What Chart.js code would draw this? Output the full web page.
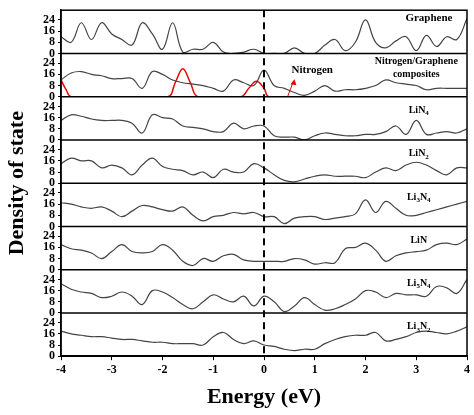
<!DOCTYPE html>
<html>
<head>
<meta charset="utf-8">
<script src="https://cdn.jsdelivr.net/npm/chart.js@4/dist/chart.umd.min.js"></script>
<style>
  html, body { margin: 0; padding: 0; background: #fff; }
  #wrap { width: 474px; height: 415px; }
</style>
</head>
<body>
<div id="wrap"><canvas id="grafDos"></canvas></div>
<script>
// energy grid (eV), step 0.2
const energia = [-4,-3.8,-3.6,-3.4,-3.2,-3,-2.8,-2.6,-2.4,-2.2,-2,-1.8,-1.6,-1.4,-1.2,-1,-0.8,-0.6,-0.4,-0.2,0,
                 0.2,0.4,0.6,0.8,1,1.2,1.4,1.6,1.8,2,2.2,2.4,2.6,2.8,3,3.2,3.4,3.6,3.8,4];

const dosGraphene  = [12,8,22,10,22,14,10,6,22,14,3,22,1,3,3,8,1,0,1,3,0,0,0,4,0,0,6,10,2,8,24,8,4,9,12,2,13,5,12,10,25];
const dosComposite = [12,17,18,16,15,13,13,13,6,18,16,12,10,9,8,6,4,12,10,8,19,8,6,3,1,4,8,4,5,5,6,8,12,10,9,8,5,6,6,6,6];
const dosLiN4      = [14,18,17,15,14,14,14,12,5,18,16,15,10,9,8,6,6,12,8,10,10,3,2,2,0,3,5,4,3,3,4,4,6,10,4,14,4,5,6,5,8];
const dosLiN2      = [14,18,16,16,11,13,11,6,13,18,12,10,9,6,8,4,10,8,8,14,11,6,2,1,3,5,6,5,5,5,4,8,11,9,13,15,13,9,6,11,11];
const dosLi3N4     = [17,16,14,13,14,11,7,11,15,14,12,11,14,8,4,7,8,10,9,10,7,7,2,6,7,7,5,6,7,9,19,10,18,13,8,8,10,12,14,16,18];
const dosLiN       = [18,15,14,12,8,13,18,13,12,13,18,14,6,3,8,6,10,11,7,6,6,6,6,8,7,4,5,5,15,16,19,14,6,10,12,13,14,18,19,18,22];
const dosLi5N4     = [21,17,15,14,11,12,15,12,6,16,15,11,6,3,8,13,10,8,12,5,12,8,1,5,11,6,2,3,6,10,16,15,11,14,13,13,12,19,18,14,24];
const dosLi3N2     = [18,16,15,14,14,13,12,12,11,10,10,9,9,9,8,14,17,12,9,11,8,7,5,4,5,5,9,12,14,15,15,17,11,12,14,17,18,17,16,18,21];

// nitrogen projected DOS (red), own energy points
const energiaN = [-4,-3.9,-3.8,-1.9,-1.75,-1.6,-1.45,-1.3,-0.45,-0.3,-0.15,0,0.1,4];
const dosN     = [12,5,0,0,10,20,10,0,0,6,11,6,0,0];

const painelNomes = ['Graphene', ['Nitrogen/Graphene', 'composites'], 'LiN4', 'LiN2', 'Li3N4', 'LiN', 'Li5N4', 'Li3N2'];
const painelDados = [dosGraphene, dosComposite, dosLiN4, dosLiN2, dosLi3N4, dosLiN, dosLi5N4, dosLi3N2];
const yTicks = [0, 8, 16, 24];

const serif = '"Liberation Serif", "DejaVu Serif", serif';
const nAxes = painelDados.length;

let datasets = [];
let scales = {
   x: {
      type: 'linear', min: -4, max: 4,
      ticks: { stepSize: 1, color: '#000', font: { family: serif, size: 12, weight: 'bold' } },
      grid: { drawOnChartArea: false, color: '#000', tickLength: 4 },
      border: { color: '#000', width: 1.5 },
      title: { display: true, text: 'Energy (eV)', color: '#000', font: { family: serif, size: 22, weight: 'bold' }, padding: { top: 4 } }
   }
};

for (let i = 0; i < nAxes; i++) {
   datasets.push({
      data: energia.map((e, k) => ({ x: e, y: painelDados[i][k] })),
      yAxisID: 'y' + i, borderColor: '#444', borderWidth: 1.2, pointRadius: 0, tension: 0.4, fill: false
   });
}
// stacked axes are laid out bottom-up, so add them in reverse
for (let i = nAxes - 1; i >= 0; i--) {
   scales['y' + i] = {
      type: 'linear', stack: 'dos', stackWeight: 1, offset: false, position: 'left',
      min: 0, max: 31,
      afterBuildTicks: ax => { ax.ticks = yTicks.map(v => ({ value: v })); },
      afterFit: ax => { ax.width = 61; },
      ticks: { autoSkip: false, color: '#000', padding: 3, font: { family: serif, size: 12, weight: 'bold' } },
      grid: { drawOnChartArea: false, color: '#000', tickLength: 3 },
      border: { color: '#000', width: 1.5 }
   };
}
datasets.push({
   data: energiaN.map((e, k) => ({ x: e, y: dosN[k] })),
   yAxisID: 'y1', borderColor: '#e00', borderWidth: 1.5, pointRadius: 0, tension: 0.4, fill: false
});

const extras = {
   id: 'extras',
   afterDraw(chart) {
      const ctx = chart.ctx, a = chart.chartArea, sx = chart.scales.x;
      ctx.save();
      // panel frame and separators
      ctx.strokeStyle = '#000'; ctx.lineWidth = 1.5;
      ctx.strokeRect(a.left, a.top, a.right - a.left, a.bottom - a.top);
      for (let i = 0; i < nAxes; i++) {
         let s = chart.scales['y' + i];
         ctx.beginPath(); ctx.moveTo(a.left, s.bottom); ctx.lineTo(a.right, s.bottom); ctx.stroke();
      }
      // Fermi level
      let x0 = sx.getPixelForValue(0);
      ctx.setLineDash([7, 5]); ctx.lineWidth = 2;
      ctx.beginPath(); ctx.moveTo(x0, a.top); ctx.lineTo(x0, a.bottom); ctx.stroke();
      ctx.setLineDash([]);
      // panel names
      ctx.fillStyle = '#000'; ctx.textAlign = 'center'; ctx.textBaseline = 'middle';
      for (let i = 0; i < nAxes; i++) {
         let s = chart.scales['y' + i];
         let nome = painelNomes[i];
         if (Array.isArray(nome)) {
            ctx.font = 'bold 10px ' + serif;
            ctx.fillText(nome[0], sx.getPixelForValue(3.0), s.getPixelForValue(25));
            ctx.fillText(nome[1], sx.getPixelForValue(3.0), s.getPixelForValue(16));
            continue;
         }
         let xc = sx.getPixelForValue(i === 0 ? 3.25 : 3.05), yc = s.getPixelForValue(i === 0 ? 25 : 21);
         let m = nome.match(/^(Li)(\d?)(N)(\d?)$/);
         if (!m) { ctx.font = 'bold 11px ' + serif; ctx.fillText(nome, xc, yc); continue; }
         let partes = [[m[1], 0], [m[2], 1], [m[3], 0], [m[4], 1]].filter(p => p[0]);
         let larg = partes.reduce((t, p) => { ctx.font = 'bold ' + (p[1] ? 7 : 10) + 'px ' + serif; return t + ctx.measureText(p[0]).width; }, 0);
         let xp = xc - larg / 2;
         ctx.textAlign = 'left';
         partes.forEach(p => {
            ctx.font = 'bold ' + (p[1] ? 7 : 10) + 'px ' + serif;
            ctx.fillText(p[0], xp, yc + (p[1] ? 3 : 0));
            xp += ctx.measureText(p[0]).width;
         });
         ctx.textAlign = 'center';
      }
      // Nitrogen label and arrow
      let s1 = chart.scales.y1;
      ctx.font = 'bold 11px ' + serif;
      ctx.fillText('Nitrogen', sx.getPixelForValue(0.95), s1.getPixelForValue(19));
      ctx.strokeStyle = '#e00'; ctx.fillStyle = '#e00'; ctx.lineWidth = 1;
      let ax0 = sx.getPixelForValue(0.47), ay0 = s1.getPixelForValue(0.5);
      let ax1 = sx.getPixelForValue(0.58), ay1 = s1.getPixelForValue(11);
      ctx.beginPath(); ctx.moveTo(ax0, ay0); ctx.lineTo(ax1, ay1); ctx.stroke();
      ctx.beginPath(); ctx.moveTo(ax1 + 1, ay1 - 2); ctx.lineTo(ax1 - 3, ay1 + 3); ctx.lineTo(ax1 + 3, ay1 + 4); ctx.fill();
      // y title
      ctx.fillStyle = '#000';
      ctx.translate(17, (a.top + a.bottom) / 2);
      ctx.rotate(-Math.PI / 2);
      ctx.font = 'bold 22px ' + serif;
      ctx.fillText('Density of state', 0, 0);
      ctx.restore();
   }
};

new Chart(document.getElementById('grafDos').getContext('2d'), {
   type: 'line',
   data: { datasets: datasets },
   options: {
      responsive: true, maintainAspectRatio: false, animation: false,
      layout: { padding: { top: 6, right: 7, left: 0, bottom: 0 } },
      plugins: { legend: { display: false }, tooltip: { enabled: false } },
      scales: scales
   },
   plugins: [extras]
});
</script>
</body>
</html>
